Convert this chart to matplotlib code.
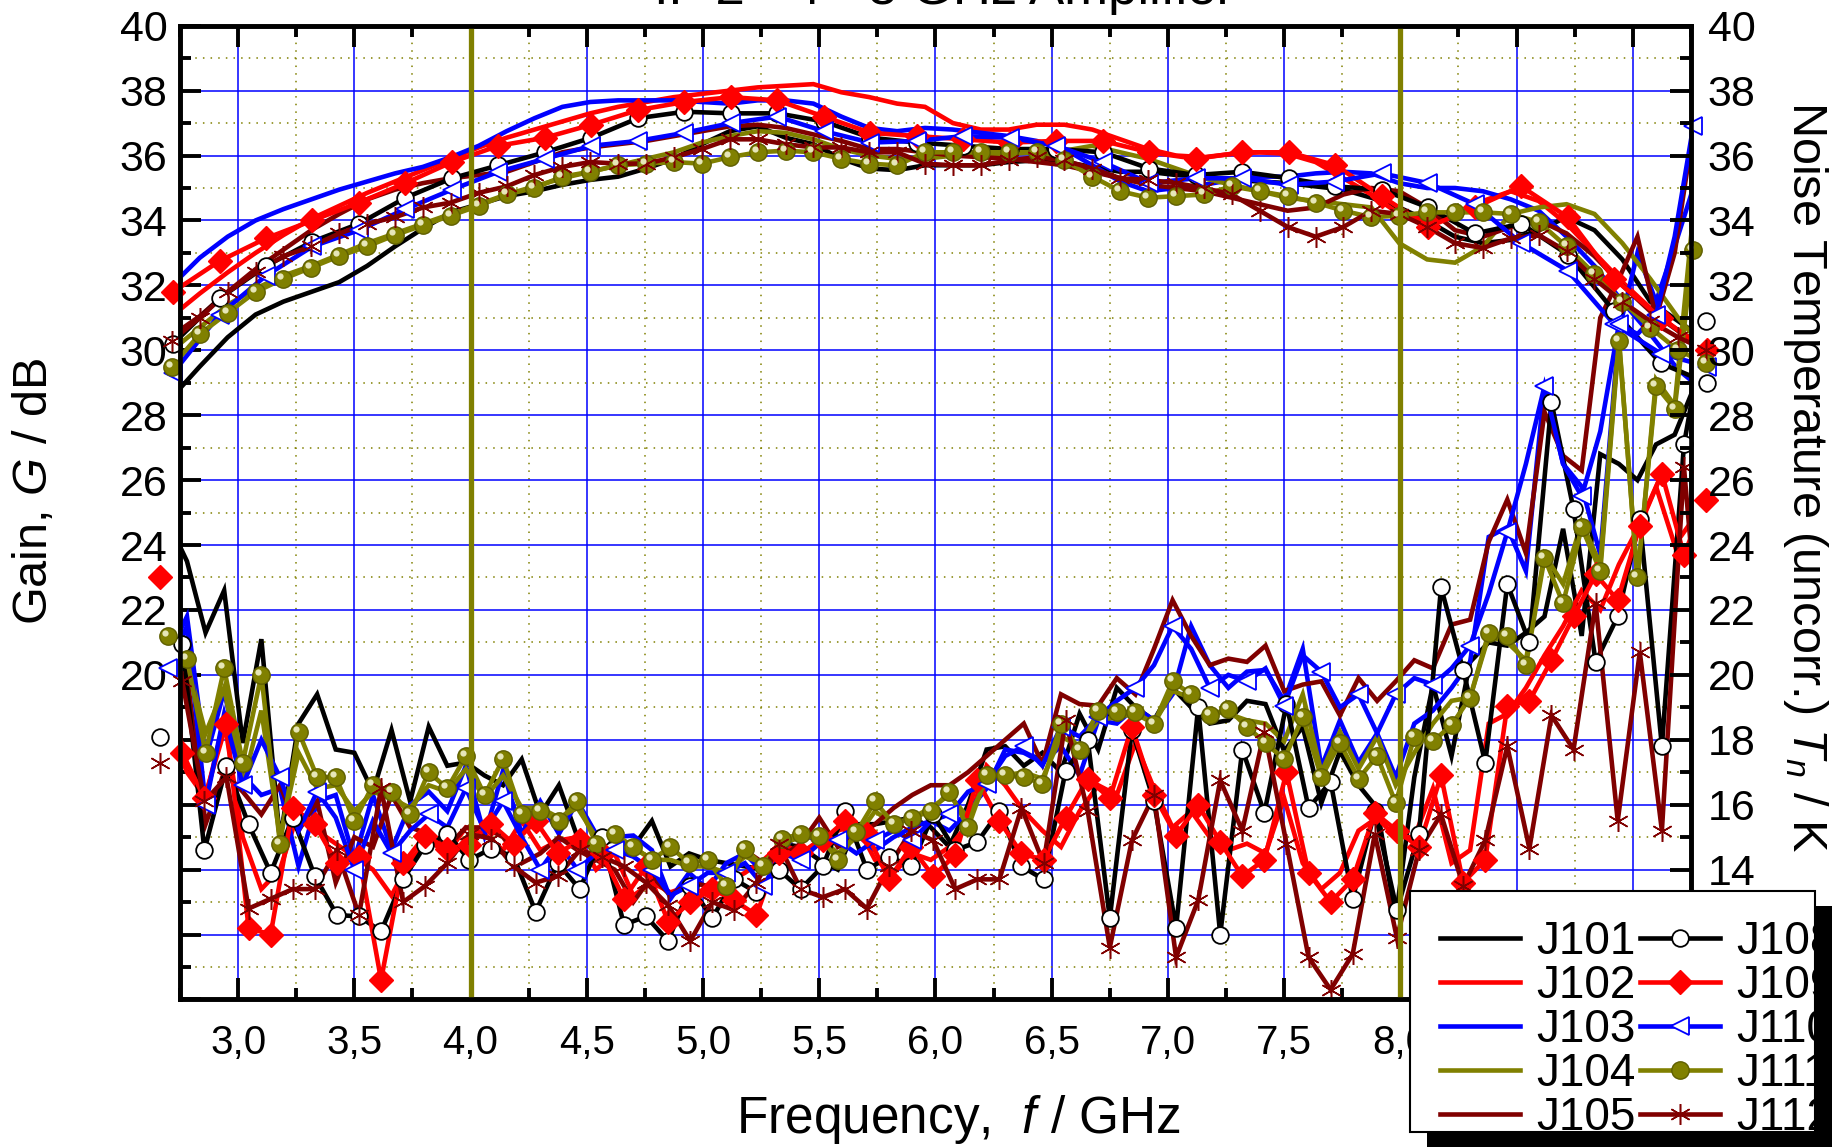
import numpy as np
import matplotlib.pyplot as plt
import matplotlib.transforms as mtransforms
from matplotlib.lines import Line2D
from matplotlib.patches import Rectangle
from matplotlib.ticker import MultipleLocator, FuncFormatter

plt.rcParams['font.family'] = ['Liberation Sans', 'DejaVu Sans']
plt.rcParams['mathtext.fontset'] = 'custom'
plt.rcParams['mathtext.rm'] = 'Liberation Sans'
plt.rcParams['mathtext.it'] = 'Liberation Sans:italic'

# ---- gain curves (left axis) ----
# J101..J105, J111, J112 sampled every 0.12 GHz from 2.715 GHz
gain_J101 = [28.55, 29.5, 30.4, 31.1, 31.5, 31.8, 32.1, 32.6, 33.2, 33.75, 34.25, 34.5, 34.75, 34.9,
             35.1, 35.25, 35.35, 35.6, 35.9, 36.35, 36.75, 36.9, 36.55, 36.35, 35.9, 35.6, 35.55, 35.7,
             35.7, 35.7, 35.8, 35.85, 35.8, 35.65, 35.5, 35.5, 35.4, 35.35, 35.25, 35.2, 35.15, 35.05,
             34.95, 34.7, 34.4, 34.0, 33.5, 33.3, 33.4, 33.7, 34.1, 33.7, 32.8, 31.5, 30.9, 30.3]
gain_J102 = [31.05, 31.75, 32.4, 33.0, 33.55, 34.05, 34.45, 34.85, 35.2, 35.55, 35.9, 36.25, 36.55, 36.8,
             37.05, 37.3, 37.5, 37.65, 37.8, 37.9, 38.0, 38.1, 38.15, 38.2, 37.95, 37.8, 37.6, 37.5,
             37.0, 36.8, 36.8, 36.95, 36.95, 36.8, 36.5, 36.2, 36.0, 35.95, 36.05, 36.1, 36.05, 35.8,
             35.3, 34.8, 34.2, 34.0, 34.1, 34.6, 34.9, 34.6, 33.9, 33.0, 32.1, 31.3, 30.6, 30.0]
gain_J103 = [32.0, 32.85, 33.5, 34.0, 34.35, 34.65, 34.95, 35.2, 35.45, 35.65, 35.95, 36.3, 36.75, 37.15,
             37.5, 37.65, 37.7, 37.7, 37.7, 37.65, 37.6, 37.7, 37.7, 37.6, 37.2, 36.85, 36.75, 36.85,
             36.8, 36.7, 36.6, 36.45, 36.2, 35.7, 35.2, 34.9, 35.0, 35.1, 35.25, 35.35, 35.35, 35.45,
             35.5, 35.45, 35.15, 35.0, 35.0, 34.9, 34.65, 34.3, 33.5, 32.6, 31.5, 30.5, 29.4, 28.7]
gain_J104 = [30.0, 30.7, 31.4, 31.9, 32.3, 32.6, 32.95, 33.3, 33.6, 33.9, 34.2, 34.5, 34.8, 35.05,
             35.3, 35.5, 35.7, 35.9, 36.1, 36.4, 36.6, 36.75, 36.7, 36.5, 36.2, 36.0, 35.9, 35.9,
             36.0, 36.0, 36.05, 36.1, 36.15, 36.3, 36.1, 35.9, 35.6, 35.3, 35.1, 34.9, 34.7, 34.6,
             34.5, 34.4, 33.3, 32.8, 32.7, 33.2, 34.2, 34.4, 34.5, 34.2, 33.3, 32.2, 31.0, 30.0]
gain_J105 = [30.45, 31.05, 31.8, 32.5, 33.1, 33.7, 34.2, 34.65, 34.95, 35.15, 35.3, 35.4, 35.5, 35.8,
             36.1, 36.25, 36.35, 36.45, 36.6, 36.75, 36.9, 36.95, 36.85, 36.65, 36.45, 36.2, 36.2, 36.1,
             36.0, 35.95, 35.9, 35.8, 35.7, 35.5, 35.3, 35.1, 35.0, 34.9, 34.7, 34.5, 34.3, 34.4,
             34.8, 35.0, 34.9, 34.4, 33.7, 33.5, 33.8, 34.0, 33.6, 32.9, 32.0, 31.2, 30.6, 30.1]
gain_J111 = [29.5, 30.5, 31.15, 31.8, 32.2, 32.55, 32.9, 33.2, 33.55, 33.85, 34.15, 34.45, 34.8, 35.0,
             35.35, 35.5, 35.7, 35.75, 35.8, 35.75, 35.95, 36.1, 36.15, 36.1, 35.9, 35.75, 35.7, 36.1,
             36.1, 36.1, 36.1, 36.1, 35.85, 35.35, 34.9, 34.7, 34.75, 34.8, 35.05, 34.9, 34.75, 34.55,
             34.3, 34.1, 34.15, 34.25, 34.25, 34.25, 34.2, 33.95, 33.2, 32.35, 31.5, 30.7, 30.0, 29.6]
gain_J112 = [30.3, 31.0, 31.8, 32.4, 32.9, 33.2, 33.6, 33.9, 34.1, 34.4, 34.55, 34.85, 35.05, 35.4,
             35.65, 35.8, 35.75, 35.75, 35.95, 36.2, 36.5, 36.5, 36.35, 36.25, 36.25, 36.1, 36.1, 35.75,
             35.7, 35.7, 35.85, 35.95, 35.85, 35.6, 35.3, 35.25, 35.15, 35.0, 34.8, 34.3, 33.8, 33.5,
             33.8, 34.3, 34.2, 33.8, 33.3, 33.15, 33.45, 33.55, 33.05, 32.2, 31.5, 30.9, 30.4, 30.0]
# J108..J110 sampled every 0.2 GHz from 2.72 GHz
gain_J108 = [30.2, 31.6, 32.6, 33.35, 33.9, 34.7, 35.3, 35.7, 36.1, 36.55, 37.15, 37.35, 37.3, 37.3,
             37.05, 36.55, 36.4, 36.3, 36.2, 36.2, 36.1, 35.6, 35.4, 35.5, 35.3, 35.05, 34.95, 34.4,
             33.6, 33.9, 32.95, 31.2, 29.6, 29.0]
gain_J109 = [31.8, 32.75, 33.45, 34.0, 34.55, 35.15, 35.8, 36.3, 36.55, 36.95, 37.4, 37.65, 37.8, 37.7,
             37.2, 36.7, 36.6, 36.5, 36.4, 36.45, 36.45, 36.1, 35.9, 36.1, 36.1, 35.7, 34.75, 33.8,
             34.4, 35.05, 34.1, 32.2, 31.0, 30.0]
gain_J110 = [29.3, 31.1, 32.3, 33.2, 33.7, 34.35, 34.95, 35.5, 35.9, 36.3, 36.45, 36.7, 37.0, 37.2,
             36.75, 36.4, 36.45, 36.6, 36.55, 36.3, 35.8, 35.15, 35.3, 35.3, 35.1, 35.2, 35.45, 35.15,
             34.5, 33.3, 32.45, 30.8, 29.9, 29.5]

# ---- noise temperature curves (right axis) ----
# J101..J105, J110, J111 sampled every 0.08 GHz from 2.70 GHz
noise_J101 = [24.7, 23.5, 21.3, 22.6, 17.9, 21.1, 14.9, 18.5, 19.4, 17.7, 17.6, 16.4, 18.3, 16.1, 18.4,
              17.2, 17.3, 16.9, 16.6, 17.4, 15.7, 16.6, 15.0, 14.8, 14.9, 14.7, 15.5, 14.1, 14.5,
              14.3, 14.2, 14.1, 14.0, 14.8, 14.7, 14.3, 14.0, 15.4, 15.4, 15.5, 15.6, 15.3, 14.7, 16.0,
              17.7, 17.8, 17.2, 17.6, 17.0, 18.8, 17.7, 19.6, 19.0, 18.6, 19.6, 19.0, 18.5, 18.6, 19.2,
              19.1, 17.65, 18.4, 16.05, 17.65, 16.6, 15.9, 12.5, 16.85, 19.7, 17.5, 20.4, 21.0, 20.9,
              21.3, 21.8, 24.5, 21.2, 26.8, 26.5, 26.0, 27.1, 27.4, 28.8]
noise_J102 = [18.5, 17.0, 16.2, 18.6, 15.0, 13.4, 14.0, 15.8, 15.2, 14.8, 14.4, 14.0, 13.2, 14.3, 14.9,
              14.5, 15.3, 15.1, 14.6, 15.5, 14.6, 14.9, 15.0, 14.0, 14.5, 13.2, 13.6, 13.3, 13.5,
              13.2, 13.6, 13.9, 14.3, 14.8, 14.5, 14.9, 15.2, 15.4, 14.3, 13.9, 14.5, 14.3, 14.7, 15.4,
              17.2, 16.6, 15.8, 15.2, 14.7, 15.8, 16.6, 16.3, 17.9, 16.5, 15.3, 15.8, 15.0, 14.6, 14.8,
              14.5, 16.2, 14.2, 13.4, 13.9, 15.2, 15.6, 15.0, 15.0, 16.5, 14.2, 14.6, 18.5, 18.8,
              19.6, 20.6, 21.5, 22.6, 22.0, 23.4, 24.5, 25.8, 24.0, 24.8]
noise_J103 = [20.6, 21.8, 17.4, 19.5, 16.9, 16.3, 16.5, 14.1, 16.1, 16.3, 14.3, 16.3, 14.6, 16.0, 16.4,
              15.8, 17.2, 15.05, 17.05, 15.1, 16.1, 15.1, 16.1, 15.1, 15.0, 15.05, 14.6, 13.1, 13.9,
              13.4, 14.2, 14.5, 13.9, 14.6, 15.2, 14.8, 14.9, 15.1, 14.6, 15.0, 15.3, 15.5, 15.2, 15.8,
              16.5, 17.7, 17.6, 17.3, 17.8, 16.9, 18.6, 18.5, 19.0, 18.6, 19.4, 21.5, 20.3, 19.6, 20.1,
              20.15, 19.2, 20.8, 17.15, 18.6, 17.3, 18.2, 16.85, 18.5, 18.9, 19.6, 20.4, 24.25, 24.55,
              23.2, 28.9, 26.5, 25.8, 23.7, 30.6, 33.0, 31.5, 33.2, 35.0]
noise_J104 = [21.8, 20.4, 18.2, 19.6, 16.6, 18.9, 15.0, 17.6, 16.5, 16.6, 15.8, 16.4, 16.2, 15.9, 16.6,
              16.4, 17.1, 16.2, 16.9, 15.9, 15.9, 15.6, 15.9, 15.0, 15.0, 14.7, 14.3, 14.3, 14.1, 14.1,
              13.9, 14.4, 14.2, 14.8, 15.0, 15.0, 14.5, 15.0, 15.8, 15.4, 15.6, 15.9, 16.3, 15.6, 16.7,
              16.9, 17.0, 16.8, 18.1, 17.8, 18.6, 18.7, 18.8, 18.5, 19.5, 19.3, 18.9, 18.8, 18.6,
              18.5, 17.95, 19.4, 17.0, 18.25, 17.1, 18.1, 16.6, 17.6, 18.5, 19.2, 19.3, 21.2, 21.0,
              20.45, 23.7, 22.8, 24.7, 23.4, 30.4, 22.9, 29.1, 28.3, 34.2]
noise_J105 = [18.3, 20.0, 15.4, 17.0, 16.4, 15.7, 16.6, 15.2, 16.1, 13.6, 15.0, 14.7, 16.3, 15.3, 15.1,
              14.7, 15.3, 15.3, 15.0, 14.2, 14.5, 15.0, 14.6, 14.3, 14.0, 13.0, 13.8, 13.2, 13.6,
              13.5, 13.6, 14.6, 14.2, 14.4, 14.8, 15.6, 14.7, 15.0, 15.4, 15.9, 16.3,
              16.6, 16.6, 17.0, 17.5, 18.0, 18.5, 17.25, 19.4, 19.1, 19.05, 19.9, 19.4, 20.8, 22.3,
              21.2, 20.3, 20.5, 20.4,
              20.9, 19.5, 19.7, 19.8, 18.75, 19.9, 19.2, 19.8, 20.45, 20.2, 21.55, 21.7, 24.1, 25.4,
              23.75, 28.1, 26.75, 26.3, 31.0, 32.2, 33.5, 31.0, 33.0, 36.8]
noise_J110 = [20.2, 21.5, 16.0, 18.8, 16.6, 18.0, 16.85, 15.2, 16.4, 15.6, 14.0, 15.5, 14.5, 15.2, 15.7,
              15.3, 16.5, 15.2, 16.1, 15.0, 14.0, 14.8, 14.0, 14.5, 14.6, 14.4, 14.0, 13.2, 13.5, 13.9,
              13.9, 14.2, 13.5, 14.5, 14.3, 14.8, 14.9, 14.5, 14.9, 15.2, 14.9, 15.5, 15.7, 16.4, 16.65,
              17.5, 17.8, 17.2, 18.4, 18.1, 18.7, 19.2, 19.6, 20.3, 21.5, 20.8, 19.6, 20.0, 19.8, 20.2,
              19.05, 20.6, 20.1, 19.0, 19.4, 18.2, 19.4, 19.9, 19.7, 20.2, 20.9, 22.5, 24.4, 26.5, 28.9,
              26.5, 25.5, 27.5, 30.8, 30.5, 31.1, 33.5, 36.9]
noise_J111 = [21.2, 20.5, 17.6, 20.2, 17.3, 20.0, 14.8, 18.25, 16.85, 16.85, 15.5, 16.6, 16.4, 15.7,
              17.0, 16.5, 17.5, 16.3, 17.4, 15.7, 15.8, 15.5, 16.1, 14.8, 15.1, 14.7, 14.3, 14.7, 14.2,
              14.3, 13.5, 14.65, 14.1, 14.95, 15.1, 15.05, 14.3, 15.15, 16.1, 15.4, 15.6, 15.8, 16.4,
              15.3, 16.9, 16.9, 16.85, 16.65, 18.5, 17.7, 18.9, 18.85, 18.85, 18.5, 19.8, 19.4, 18.75,
              18.95, 18.4, 17.9, 17.4, 18.7, 16.85, 17.9, 16.8, 17.5, 16.05, 18.1, 17.95, 18.45, 19.3,
              21.3, 21.2, 20.3, 23.6, 22.2, 24.55, 23.2, 30.3, 23.0, 28.9, 28.2, 33.1]
# J108, J109, J112 sampled every 0.095 GHz from 2.665 GHz
noise_J108 = [18.1, 20.95, 14.6, 17.2, 15.4, 13.9, 15.6, 13.8, 12.6, 12.56, 12.1, 13.7, 14.75, 15.1,
              14.3, 14.65, 14.4, 12.7, 14.2, 13.4, 15.0, 12.3, 12.56, 11.8, 13.5, 12.5, 13.7, 13.3,
              14.0, 13.4, 14.1, 15.8, 14.0, 14.4, 14.1, 15.7, 14.6, 14.85, 15.8, 14.1, 13.7, 17.05,
              18.0, 12.5, 18.3, 16.1, 12.2, 19.0, 12.0, 17.7, 15.75, 19.1, 15.9, 16.7, 13.1, 15.8,
              12.75, 15.1, 22.7, 20.15, 17.3, 22.8, 21.0, 28.4, 25.1, 20.4, 21.8, 24.8, 17.8, 27.1, 30.9]
noise_J109 = [23.0, 17.6, 16.2, 18.5, 12.2, 12.0, 15.9, 15.4, 14.2, 14.4, 10.6, 14.2, 15.05, 14.65,
              14.75, 15.4, 14.8, 15.5, 14.5, 14.9, 14.5, 13.1, 14.1, 12.4, 13.0, 13.4, 13.05, 12.6,
              14.5, 14.5, 14.9, 15.5, 15.1, 13.7, 14.7, 13.8, 14.45, 16.75, 15.5, 14.5, 14.3, 15.6,
              16.8, 16.2, 18.4, 16.3, 15.05, 16.0, 14.85, 13.8, 14.3, 17.0, 13.9, 13.0, 13.7, 15.75,
              15.2, 14.7, 16.9, 13.6, 14.3, 19.05, 19.2, 20.45, 21.8, 23.1, 22.3, 24.6, 26.2, 23.7, 25.4]
noise_J112 = [17.3, 19.8, 16.1, 16.85, 12.8, 13.1, 13.4, 13.4, 14.6, 12.6, 16.5, 13.0, 13.5, 14.2,
              15.1, 14.95, 14.1, 13.6, 13.8, 14.6, 14.4, 14.1, 13.6, 12.9, 11.8, 13.0, 12.75, 13.6,
              14.8, 13.4, 13.15, 13.4, 12.8, 14.1, 15.2, 14.9, 13.4, 13.7, 13.7, 15.9, 14.2, 18.6,
              15.8, 11.6, 14.9, 16.3, 11.3, 13.05, 16.75, 15.2, 18.25, 14.8, 11.3, 10.3, 11.4, 15.1,
              11.9, 14.6, 15.7, 13.5, 14.9, 17.8, 14.65, 18.75, 17.7, 22.2, 15.5, 20.7, 15.2, 26.4, 18.5]

labels = ['J101', 'J102', 'J103', 'J104', 'J105', 'J108', 'J109', 'J110', 'J111', 'J112']
band_edges = [4.0, 8.0]


def grid(start, step, vals):
    return start + step * np.arange(len(vals))


BLACK, RED, BLUE, OLIVE, MAROON = 'black', '#ff0000', '#0000ff', '#808000', '#800000'
LW = 3.3

fig = plt.figure(figsize=(18.33, 11.48), dpi=100)
ax = fig.add_axes([0.0982, 0.1294, 0.8243, 0.8482])
ax.set_axisbelow(True)


def curve(x, y, color, marker=None, every=1, **mk):
    ax.plot(x, y, color=color, lw=LW, zorder=3, solid_joinstyle='miter')
    if marker is not None:
        ax.plot(x[every], np.asarray(y)[every], ls='none', marker=marker,
                clip_on=False, zorder=4, **mk)


circ = dict(ms=12, mfc='white', mec=BLACK, mew=1.3)
diam = dict(ms=12, mfc=RED, mec=RED, mew=1)
tri = dict(ms=13, mfc='white', mec=BLUE, mew=1.3)
ball = dict(ms=12.5, mfc=OLIVE, mec='#5f5f00', mew=1)
star = dict(ms=15, mfc=MAROON, mec=MAROON, mew=1.1)
ASTER = (6, 2, 0)
ALL = slice(None)

# plain series
for g, n, c in [(gain_J101, noise_J101, BLACK), (gain_J102, noise_J102, RED),
                (gain_J103, noise_J103, BLUE), (gain_J104, noise_J104, OLIVE),
                (gain_J105, noise_J105, MAROON)]:
    curve(grid(2.715, 0.12, g), g, c)
    curve(grid(2.70, 0.08, n), n, c)

# marked series
curve(grid(2.72, 0.2, gain_J108), gain_J108, BLACK, 'o', ALL, **circ)
curve(grid(2.665, 0.095, noise_J108), noise_J108, BLACK, 'o', ALL, **circ)
curve(grid(2.72, 0.2, gain_J109), gain_J109, RED, 'D', ALL, **diam)
curve(grid(2.665, 0.095, noise_J109), noise_J109, RED, 'D', ALL, **diam)
curve(grid(2.72, 0.2, gain_J110), gain_J110, BLUE, '<', ALL, **tri)
curve(grid(2.70, 0.08, noise_J110), noise_J110, BLUE, '<', slice(None, None, 2), **tri)
shine = mtransforms.offset_copy(ax.transData, fig=fig, x=-3, y=3, units='dots')
for xs, ys in [(grid(2.715, 0.12, gain_J111), gain_J111), (grid(2.70, 0.08, noise_J111), noise_J111)]:
    curve(xs, ys, OLIVE, 'o', ALL, **ball)
    ax.plot(xs, ys, ls='none', marker='o', ms=4.5, mfc='#e6e6b8', mec='none',
            transform=shine, clip_on=False, zorder=4.5)
curve(grid(2.715, 0.12, gain_J112), gain_J112, MAROON, ASTER, ALL, **star)
curve(grid(2.665, 0.095, noise_J112), noise_J112, MAROON, ASTER, slice(None, -1), **star)

for xb in band_edges:
    ax.axvline(xb, color=OLIVE, lw=3.8, zorder=6)

ax.set_xlim(2.75, 9.25)
ax.set_ylim(10, 40)
ax.xaxis.set_major_locator(MultipleLocator(0.5))
ax.xaxis.set_minor_locator(MultipleLocator(0.25))
ax.yaxis.set_major_locator(MultipleLocator(2))
ax.yaxis.set_minor_locator(MultipleLocator(1))
# 8,5 and 9,0 sit under the legend box
ax.xaxis.set_major_formatter(FuncFormatter(
    lambda v, p: f'{v:.1f}'.replace('.', ',') if v < 8.25 else ''))
ax.yaxis.set_major_formatter(FuncFormatter(lambda v, p: f'{v:.0f}' if v >= 19.5 else ''))
ax.grid(which='major', color=BLUE, lw=1.1)
ax.grid(which='minor', color=OLIVE, lw=1.1, ls=(0, (1, 4)))
ax.tick_params(which='both', direction='in', top=True, width=2.8)
ax.tick_params(which='major', length=15)
ax.tick_params(which='minor', length=8)
ax.tick_params(axis='x', pad=18, labelsize=29)
ax.tick_params(axis='y', pad=9, labelsize=31)

ax2 = ax.twinx()
ax2.set_ylim(10, 40)
ax2.yaxis.set_major_locator(MultipleLocator(2))
ax2.yaxis.set_minor_locator(MultipleLocator(1))
ax2.yaxis.set_major_formatter(FuncFormatter(lambda v, p: f'{v:.0f}' if v >= 13.5 else ''))
ax2.tick_params(which='both', direction='in', width=2.8, labelsize=31, pad=12)
ax2.tick_params(which='major', length=15)
ax2.tick_params(which='minor', length=8)
for a in (ax, ax2):
    for s in a.spines.values():
        s.set_linewidth(3.3)

fig.text(1234 / 1833, 1 - 4 / 1148, 'IF 2 - 4 - 8 GHz Amplifier', ha='right', va='baseline', fontsize=38)
fig.text(35 / 1833, 0.572, 'Gain, $G$ / dB', rotation=90, ha='center', va='center', fontsize=35)
fig.text(1806 / 1833, 0.585, 'Noise Temperature (uncorr.) $T_n$ / K', rotation=-90,
         ha='center', va='center', fontsize=35)
fig.text(958 / 1833, 1 - 1120 / 1148, 'Frequency,  $f$ / GHz', ha='center', va='center', fontsize=37)

# legend with drop shadow, clipped at its frame
bx0, bx1, by0, by1 = 1410, 1815, 891, 1132
W, H = 1833, 1148
shadow = Rectangle(((bx0 + 17) / W, 1 - (by1 + 15) / H), (bx1 - bx0) / W, (by1 - by0) / H,
                   transform=fig.transFigure, fc='black', ec='none', zorder=2.9)
frame = Rectangle((bx0 / W, 1 - by1 / H), (bx1 - bx0) / W, (by1 - by0) / H,
                  transform=fig.transFigure, fc='white', ec='black', lw=1.5, zorder=3)
fig.add_artist(shadow)
fig.add_artist(frame)

handles = [Line2D([], [], color=c, lw=LW) for c in (BLACK, RED, BLUE, OLIVE, MAROON)]
handles += [Line2D([], [], color=BLACK, lw=LW, marker='o', **circ),
            Line2D([], [], color=RED, lw=LW, marker='D', **diam),
            Line2D([], [], color=BLUE, lw=LW, marker='<', **tri),
            Line2D([], [], color=OLIVE, lw=LW, marker='o', **ball),
            Line2D([], [], color=MAROON, lw=LW, marker=ASTER, **star)]
leg = fig.legend(handles, labels, ncol=2, loc='upper left',
                 bbox_to_anchor=(1440 / W, 1 - 920 / H), bbox_transform=fig.transFigure,
                 frameon=False, fontsize=33, handlelength=1.75, handletextpad=0.35,
                 columnspacing=0.1, labelspacing=0.0, borderpad=0, borderaxespad=0)
leg.set_zorder(4)
for t in leg.get_texts():
    t.set_clip_path(frame)

fig.savefig('out.png', dpi=100)
